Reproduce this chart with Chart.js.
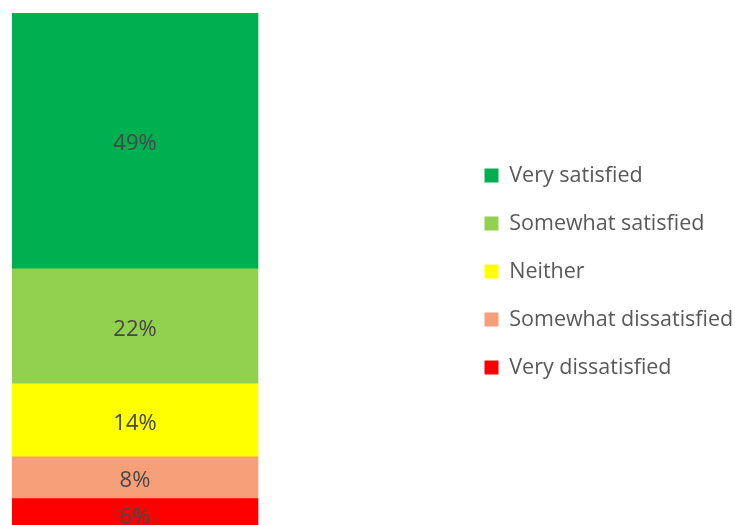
<!DOCTYPE html>
<html>
<head>
<meta charset="utf-8">
<script src="https://cdn.jsdelivr.net/npm/chart.js@4/dist/chart.umd.min.js"></script>
<style>
    html, body { margin: 0; padding: 0; background: #fff; overflow: hidden; }
    #wrap { position: relative; width: 735px; height: 530px; }
</style>
</head>
<body>
<div id="wrap"><canvas id="satisfactionChart"></canvas></div>
<script>
// answer categories, top of the stack first
var categories = ['Very satisfied', 'Somewhat satisfied', 'Neither', 'Somewhat dissatisfied', 'Very dissatisfied'];
var shares = [49, 22, 14, 8, 6];
var colors = ['#00b050', '#92d050', '#ffff00', '#f79f79', '#ff0000'];

var textColor = '#595959';
var fontFamily = "'Open Sans', 'Noto Sans', sans-serif";

// writes "NN%" in the middle of each stacked piece
var segmentLabels = {
    id: 'segmentLabels',
    afterDatasetsDraw: function (chart) {
        var ctx = chart.ctx;
        ctx.save();
        ctx.font = '22px ' + fontFamily;
        ctx.fillStyle = '#474747';
        ctx.textAlign = 'center';
        ctx.textBaseline = 'middle';
        chart.data.datasets.forEach(function (ds, i) {
            var bar = chart.getDatasetMeta(i).data[0];
            var mid = (bar.y + bar.base) / 2;
            ctx.fillText(ds.data[0].y + '%', bar.x, mid + 3);
        });
        ctx.restore();
    }
};

// Chart.js stacks bottom-up, so feed the list reversed; legend flips it back
var datasets = categories.map(function (name, i) {
    return {
        label: name,
        data: [{ x: 0, y: shares[i] }],
        backgroundColor: colors[i],
        borderWidth: 0,
        barThickness: 246
    };
}).reverse();

var ctx = document.getElementById('satisfactionChart').getContext('2d');
var myChart = new Chart(ctx, {
    type: 'bar',
    data: { datasets: datasets },
    plugins: [segmentLabels],
    options: {
        responsive: true,
        maintainAspectRatio: false,
        animation: false,
        layout: {
            padding: { left: 12, top: 13, right: 0, bottom: 0 }
        },
        scales: {
            x: {
                type: 'linear',
                stacked: true,
                offset: false,
                min: -0.5,
                max: 1.313,
                display: false
            },
            y: {
                stacked: true,
                min: 0,
                max: 99,
                display: false
            }
        },
        plugins: {
            tooltip: { enabled: false },
            legend: {
                position: 'right',
                align: 'center',
                reverse: true,
                maxWidth: 277,
                labels: {
                    boxWidth: 14,
                    boxHeight: 14,
                    padding: 26.5,
                    color: textColor,
                    font: { family: fontFamily, size: 21.5 }
                }
            }
        }
    }
});
</script>
</body>
</html>
